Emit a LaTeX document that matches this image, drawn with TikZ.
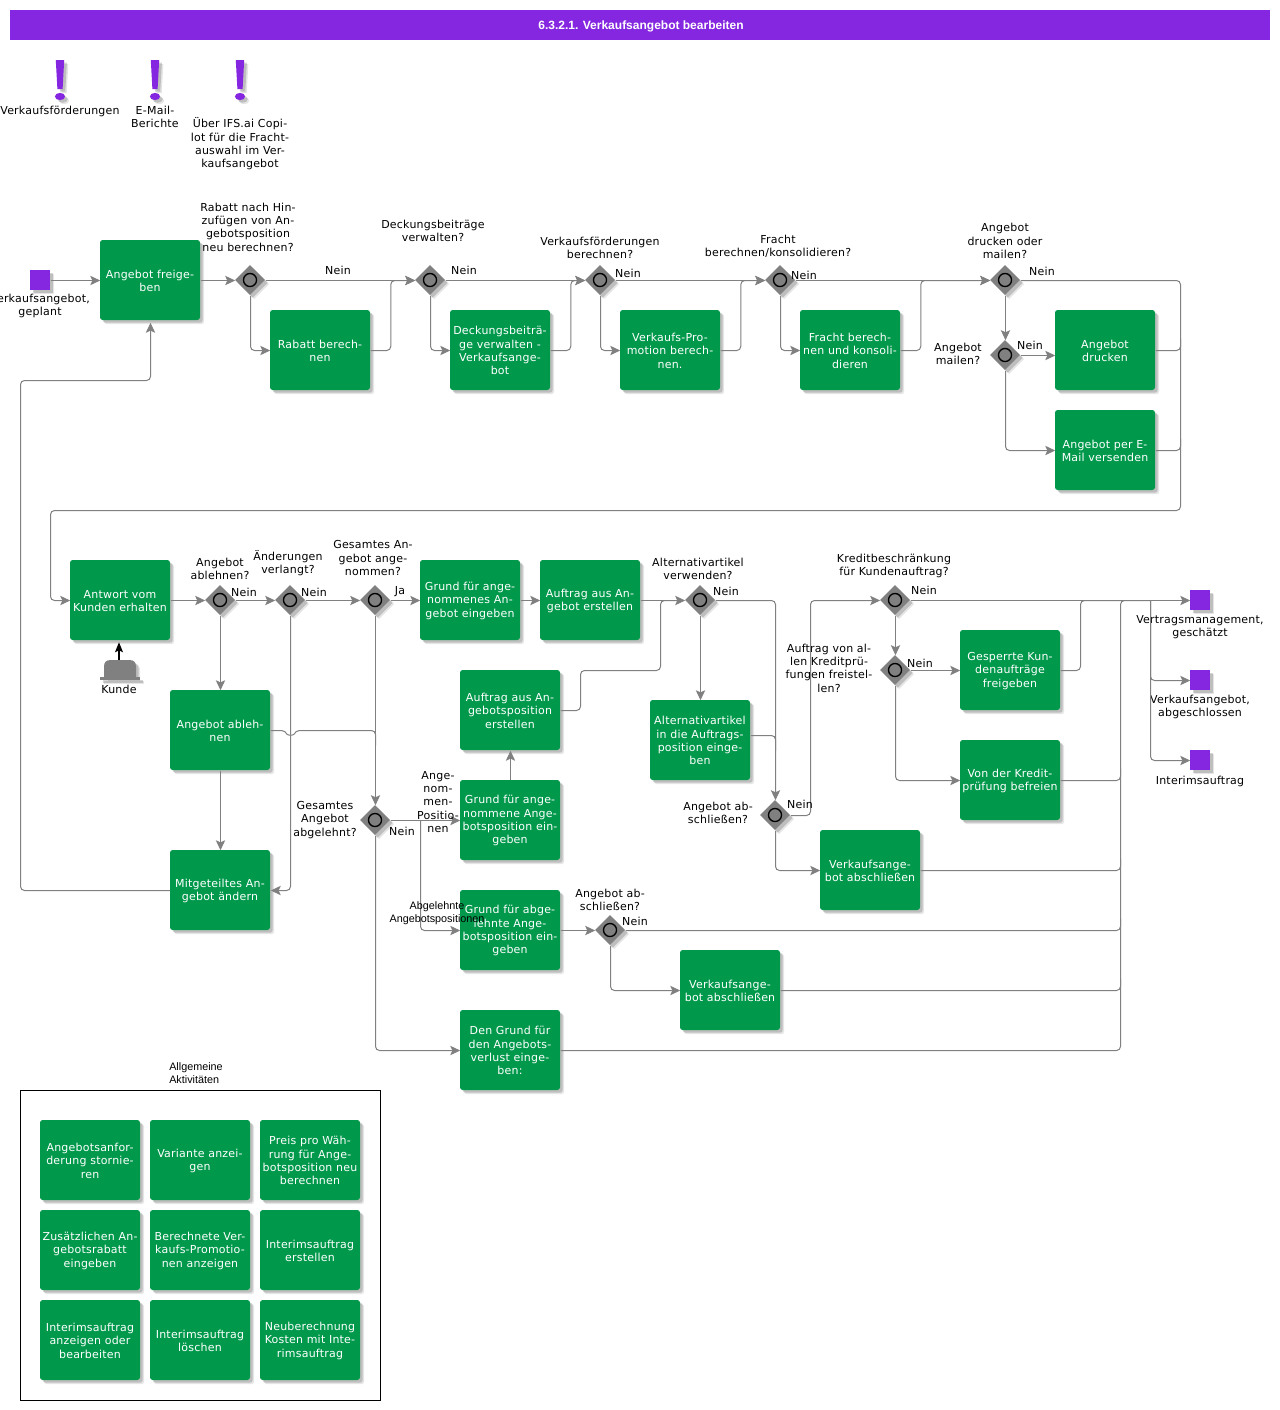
\documentclass[tikz,border=0pt]{standalone}
\usepackage{fontspec}
\setmainfont[LetterSpace=2]{DejaVu Sans}
\newfontfamily\arialf{Liberation Sans}
\usetikzlibrary{shapes.geometric,shadows,arrows.meta,calc}
\definecolor{grn}{RGB}{0,153,76}
\definecolor{vio}{RGB}{133,38,224}
\definecolor{lin}{RGB}{128,128,128}
\tikzset{
 shd/.style={drop shadow={shadow xshift=3.1pt,shadow yshift=-3.1pt,fill=black,opacity=.1},
             drop shadow={shadow xshift=2pt,shadow yshift=-2pt,fill=black,opacity=.17}},
 taskbox/.style={shape=rectangle,rounded corners=2pt,fill=grn,minimum width=75pt,minimum height=60pt,inner sep=0pt,shd},
 tasktext/.style={align=center,inner sep=0pt,text=white,yshift=-.6pt,font=\fontsize{8.25}{10}\selectfont},
 gate/.style={shape=diamond,fill=lin,minimum width=22.6pt,minimum height=22.6pt,inner sep=0pt,shd,
   path picture={\draw[black,line width=1pt] (path picture bounding box.center) circle (4.9pt);}},
 endsq/.style={shape=rectangle,fill=vio,minimum size=15pt,inner sep=0pt,shd},
 lab/.style={align=center,inner sep=0pt,text=black,font=\fontsize{8.25}{10}\selectfont},
 arlab/.style={inner sep=0pt,text=black,font=\arialf\fontsize{8.1}{9.75}\selectfont},
 pxfix/.style={transform canvas={xshift=.375pt,yshift=-.375pt}},
 conn/.style={pxfix,draw=lin,line width=.75pt,rounded corners=3pt,-{Stealth[length=7.5pt,width=7pt,inset=1.6pt]}},
 plain/.style={pxfix,draw=lin,line width=.75pt,rounded corners=3pt},
 excl/.style={fill=vio,shd},
}
\newcommand{\bangmark}[1]{%
 \fill[excl] (#1-4.2,60) -- (#1+4.2,60) -- (#1+2.6,89) -- (#1-2.6,89) -- cycle;
 \fill[excl] (#1,96.5) ellipse (3.8pt and 2.7pt);}
\newcommand{\ttask}[3]{\node[taskbox,label={[tasktext]center:{#3}}] (#1) at (#2) {};}
\newcommand{\busjoin}[2]{\draw[plain] (#1.east) -- (#1.east -| #2) -- ($(#1.east -| #2)+(0,-12)$);}
\begin{document}
\begin{tikzpicture}[x=0.75pt,y=-0.75pt]
\useasboundingbox (0,0) rectangle (1280,1410);
\fill[white] (0,0) rectangle (1280,1410);
\node[shape=rectangle,fill=vio,minimum width=945pt,minimum height=22.5pt,inner sep=0pt] (title) at (640,25) {};
\node[inner sep=0pt,text=white,yshift=-1pt,font=\arialf\bfseries\fontsize{9}{11}\selectfont] (titletext) at (641,25) {6.3.2.1. Verkaufsangebot bearbeiten};
\bangmark{60}\bangmark{155}\bangmark{240}
\node[lab] (n1) at (60,111) {Verkaufsförderungen};
\node[lab] (n2) at (155,117) {E-Mail-\\Berichte};
\node[lab] (n3) at (240,144) {Über IFS.ai Copi-\\lot für die Fracht-\\auswahl im Ver-\\kaufsangebot};
% labels
\node[lab] (l1) at (248,227) {Rabatt nach Hin-\\zufügen von An-\\gebotsposition\\neu berechnen?};
\node[lab] (l2) at (433,231) {Deckungsbeiträge\\verwalten?};
\node[lab] (l3) at (600,248) {Verkaufsförderungen\\berechnen?};
\node[lab] (l4) at (778,246) {Fracht\\berechnen/konsolidieren?};
\node[lab] (l5) at (1005,241) {Angebot\\drucken oder\\mailen?};
\node[lab] (l6) at (958,354) {Angebot\\mailen?};
\node[lab] (l7) at (220,569) {Angebot\\ablehnen?};
\node[lab] (l8) at (288,563) {Änderungen\\verlangt?};
\node[lab] (l9) at (373,558) {Gesamtes An-\\gebot ange-\\nommen?};
\node[lab] (l10) at (698,569) {Alternativartikel\\verwenden?};
\node[lab] (l11) at (894,566) {Kreditbeschränkung\\für Kundenauftrag?};
\node[lab] (l12) at (829,668) {Auftrag von al-\\len Kreditprü-\\fungen freistel-\\len?};
\node[lab] (l13) at (718,813) {Angebot ab-\\schließen?};
\node[lab] (l14) at (325,820) {Gesamtes\\Angebot\\abgelehnt?};
\node[lab] (l16) at (610,900) {Angebot ab-\\schließen?};
% tasks
\ttask{freigeben}{150,280}{Angebot freige-\\ben}
\ttask{rabatt}{320,350}{Rabatt berech-\\nen}
\ttask{deck}{500,350}{Deckungsbeiträ-\\ge verwalten -\\Verkaufsange-\\bot}
\ttask{vkp}{670,350}{Verkaufs-Pro-\\motion berech-\\nen.}
\ttask{fracht}{850,350}{Fracht berech-\\nen und konsoli-\\dieren}
\ttask{drucken}{1105,350}{Angebot\\drucken}
\ttask{email}{1105,450}{Angebot per E-\\Mail versenden}
\ttask{antwort}{120,600}{Antwort vom\\Kunden erhalten}
\ttask{grundeins}{470,600}{Grund für ange-\\nommenes An-\\gebot eingeben}
\ttask{auftrag}{590,600}{Auftrag aus An-\\gebot erstellen}
\ttask{alt}{700,740}{Alternativartikel\\in die Auftrags-\\position einge-\\ben}
\ttask{gesperrt}{1010,670}{Gesperrte Kun-\\denaufträge\\freigeben}
\ttask{vonder}{1010,780}{Von der Kredit-\\prüfung befreien}
\ttask{auftragpos}{510,710}{Auftrag aus An-\\gebotsposition\\erstellen}
\ttask{ablehnen}{220,730}{Angebot ableh-\\nen}
\ttask{mitget}{220,890}{Mitgeteiltes An-\\gebot ändern}
\ttask{abschlA}{870,870}{Verkaufsange-\\bot abschließen}
\ttask{abschlB}{730,990}{Verkaufsange-\\bot abschließen}
\ttask{verlust}{510,1050}{Den Grund für\\den Angebots-\\verlust einge-\\ben:}
% gateways
\node[gate] (g1) at (250,280) {};
\node[gate] (g2) at (430,280) {};
\node[gate] (g3) at (600,280) {};
\node[gate] (g4) at (780,280) {};
\node[gate] (g5) at (1005,280) {};
\node[gate] (g6) at (1005,355) {};
\node[gate] (ga) at (220,600) {};
\node[gate] (gb) at (290,600) {};
\node[gate] (gc) at (375,600) {};
\node[gate] (gd) at (700,600) {};
\node[gate] (ge) at (775,815) {};
\node[gate] (gf) at (895,600) {};
\node[gate] (gg) at (895,670) {};
\node[gate] (gh) at (375,820) {};
\node[gate] (gi) at (610,930) {};
% ends
\node[endsq] (start) at (40,280) {};
\node[endsq] (e1) at (1200,600) {};
\node[endsq] (e2) at (1200,680) {};
\node[endsq] (e3) at (1200,760) {};
\node[lab] (sl) at (40,306) {Verkaufsangebot,\\geplant};
\node[lab] (e1l) at (1200,627) {Vertragsmanagement,\\geschätzt};
\node[lab] (e2l) at (1200,707) {Verkaufsangebot,\\abgeschlossen};
\node[lab] (e3l) at (1200,781) {Interimsauftrag};
% connectors row 1
\draw[conn] (start) -- (freigeben);
\draw[conn] (freigeben) -- (g1);
\draw[conn] (g1) -- (g2);
\draw[conn] (g1.south) |- (rabatt.west);
\draw[conn] (rabatt.east) -- ++(20,0) |- (g2.west);
\draw[conn] (g2) -- (g3);
\draw[conn] (g2.south) |- (deck.west);
\draw[conn] (deck.east) -- ++(20,0) |- (g3.west);
\draw[conn] (g3) -- (g4);
\draw[conn] (g3.south) |- (vkp.west);
\draw[conn] (vkp.east) -- ++(20,0) |- (g4.west);
\draw[conn] (g4) -- (g5);
\draw[conn] (g4.south) |- (fracht.west);
\draw[conn] (fracht.east) -- ++(20,0) |- (g5.west);
\draw[conn] (g5.south) -- (g6.north);
\draw[conn] (g6.east) -- (g6.east -| drucken.west);
\draw[conn] (g6.south) |- (email.west);
\coordinate (wrapR) at (1180,510);
\coordinate (wrapL) at (50,510);
\draw[conn] (g5.east) -| (wrapR) -- (wrapL) |- (antwort.west);
\busjoin{drucken}{wrapR}
\busjoin{email}{wrapR}
% row 2
\draw[conn] (antwort) -- (ga);
\draw[conn] (ga) -- (gb);
\draw[conn] (gb) -- (gc);
\draw[conn] (gc) -- (grundeins);
\draw[conn] (grundeins) -- (auftrag);
\draw[conn] (auftrag) -- (gd);
\draw[conn] (ga.south) -- (ablehnen.north);
\draw[conn] (ablehnen.south) -- (mitget.north);
\draw[conn] (gb.south) |- (mitget.east);
\coordinate (hopA) at (285,730);
\coordinate (hopB) at (295,730);
\coordinate (hopC) at (287,735);
\coordinate (hopD) at (293,735);
\coordinate (hopE) at (375,745);
\draw[plain] (ablehnen.east) -- (hopA) .. controls (hopC) and (hopD) .. (hopB) -| (hopE);
\draw[conn] (gc.south) -- (gh.north);
\coordinate (backY) at (20,380);
\draw[conn,shorten >=1.5pt] (mitget.west) -| (backY) -| (freigeben.south);
% tasks lower middle
\ttask{grundang}{510,820}{Grund für ange-\\nommene Ange-\\botsposition ein-\\geben}
\ttask{grundabg}{510,930}{Grund für abge-\\lehnte Ange-\\botsposition ein-\\geben}
\draw[conn] (gh.east) -- (grundang.west);
\coordinate (split) at (420,820);
\draw[conn] (split) |- (grundabg.west);
\node[lab] (l15) at (438,802) {Ange-\\nom-\\men-\\Positio-\\nen};
\node[arlab,align=center] (l17) at (437,913) {Abgelehnte\\Angebotspositionen};
\draw[conn] (grundang.north) -- (auftragpos.south);
\coordinate (jogA) at (580,670);
\coordinate (jogB) at (660,670);
\coordinate (jogC) at (660,600);
\coordinate (jogD) at (680,600);
\draw[plain] (auftragpos.east) -| (jogA) -- (jogB) -- (jogC) -- (jogD);
\draw[conn] (gh.south) |- (verlust.west);
\draw[conn] (grundabg) -- (gi);
\draw[conn] (gi.south) |- (abschlB.west);
% right vertical
\coordinate (busT) at (1120,600);
\coordinate (fan) at (1150,600);
\coordinate (gesp) at (1080,600);
\draw[plain] (verlust.east) -| (busT) -- (fan);
\busjoin{abschlB}{busT}
\busjoin{abschlA}{busT}
\busjoin{vonder}{busT}
\draw[plain] (gi.east) -- (gi.east -| busT) -- ($(gi.east -| busT)+(0,-12)$);
\draw[plain] (gesperrt.east) -| (gesp) -- (busT);
\draw[conn] (gd.east) -| (ge.north);
\coordinate (altOut) at ($(alt.east)+(0,-5)$);
\coordinate (altIn) at (775,750);
\draw[plain] (altOut) -| (altIn);
\draw[conn] (gd.south) -- (alt.north);
\draw[conn] (ge.south) |- (abschlA.west);
\coordinate (kink) at (810,815);
\draw[conn] (ge.east) -- (kink) |- (gf.west);
\draw[conn] (gf.east) -- (e1.west);
\draw[conn] (gf.south) -- (gg.north);
\draw[conn] (gg.east) -- (gesperrt.west);
\draw[conn] (gg.south) |- (vonder.west);
\draw[conn] (fan) |- (e2.west);
\draw[conn] (fan) |- (e3.west);
% branch labels
\foreach \nm/\px/\py in {a/338/270,b/464/270,c/628/273,d/804/275,e/1042/271,f/1030/345,g/244/592,h/314/592,i/726/591,j/924/590,k/920/663,m/800/804,o/402/831,p/635/921}
  \node[lab] (nein\nm) at (\px,\py) {Nein};
\node[lab] (jaa) at (400,592) {Ja};
% customer
\fill[lin,shd] (104,677) -- (104,667) .. controls (104,662) and (106,660) .. (111,660) -- (129,660) .. controls (134,660) and (136,662) .. (136,667) -- (136,677) -- cycle;
\fill[lin,shd] (100,677) rectangle (140,680);
\coordinate (kundeTop) at (119,660);
\draw[black,line width=.8pt,shorten >=1.5pt,-{Stealth[length=7.5pt,width=6pt,inset=1.5pt]}] (kundeTop) -- (antwort.south -| kundeTop);
\node[lab] (kunde) at (119,689) {Kunde};
% general
\node[arlab,align=left,anchor=west] (allg) at (169,1073) {Allgemeine\\Aktivitäten};
\draw[pxfix,black,line width=.75pt] (20,1090) rectangle (380,1400);
\ttask{a1}{90,1160}{Angebotsanfor-\\derung stornie-\\ren}
\ttask{a2}{200,1160}{Variante anzei-\\gen}
\ttask{a3}{310,1160}{Preis pro Wäh-\\rung für Ange-\\botsposition neu\\berechnen}
\ttask{a4}{90,1250}{Zusätzlichen An-\\gebotsrabatt\\eingeben}
\ttask{a5}{200,1250}{Berechnete Ver-\\kaufs-Promotio-\\nen anzeigen}
\ttask{a6}{310,1250}{Interimsauftrag\\erstellen}
\ttask{a7}{90,1340}{Interimsauftrag\\anzeigen oder\\bearbeiten}
\ttask{a8}{200,1340}{Interimsauftrag\\löschen}
\ttask{a9}{310,1340}{Neuberechnung\\Kosten mit Inte-\\rimsauftrag}
\end{tikzpicture}
\end{document}
